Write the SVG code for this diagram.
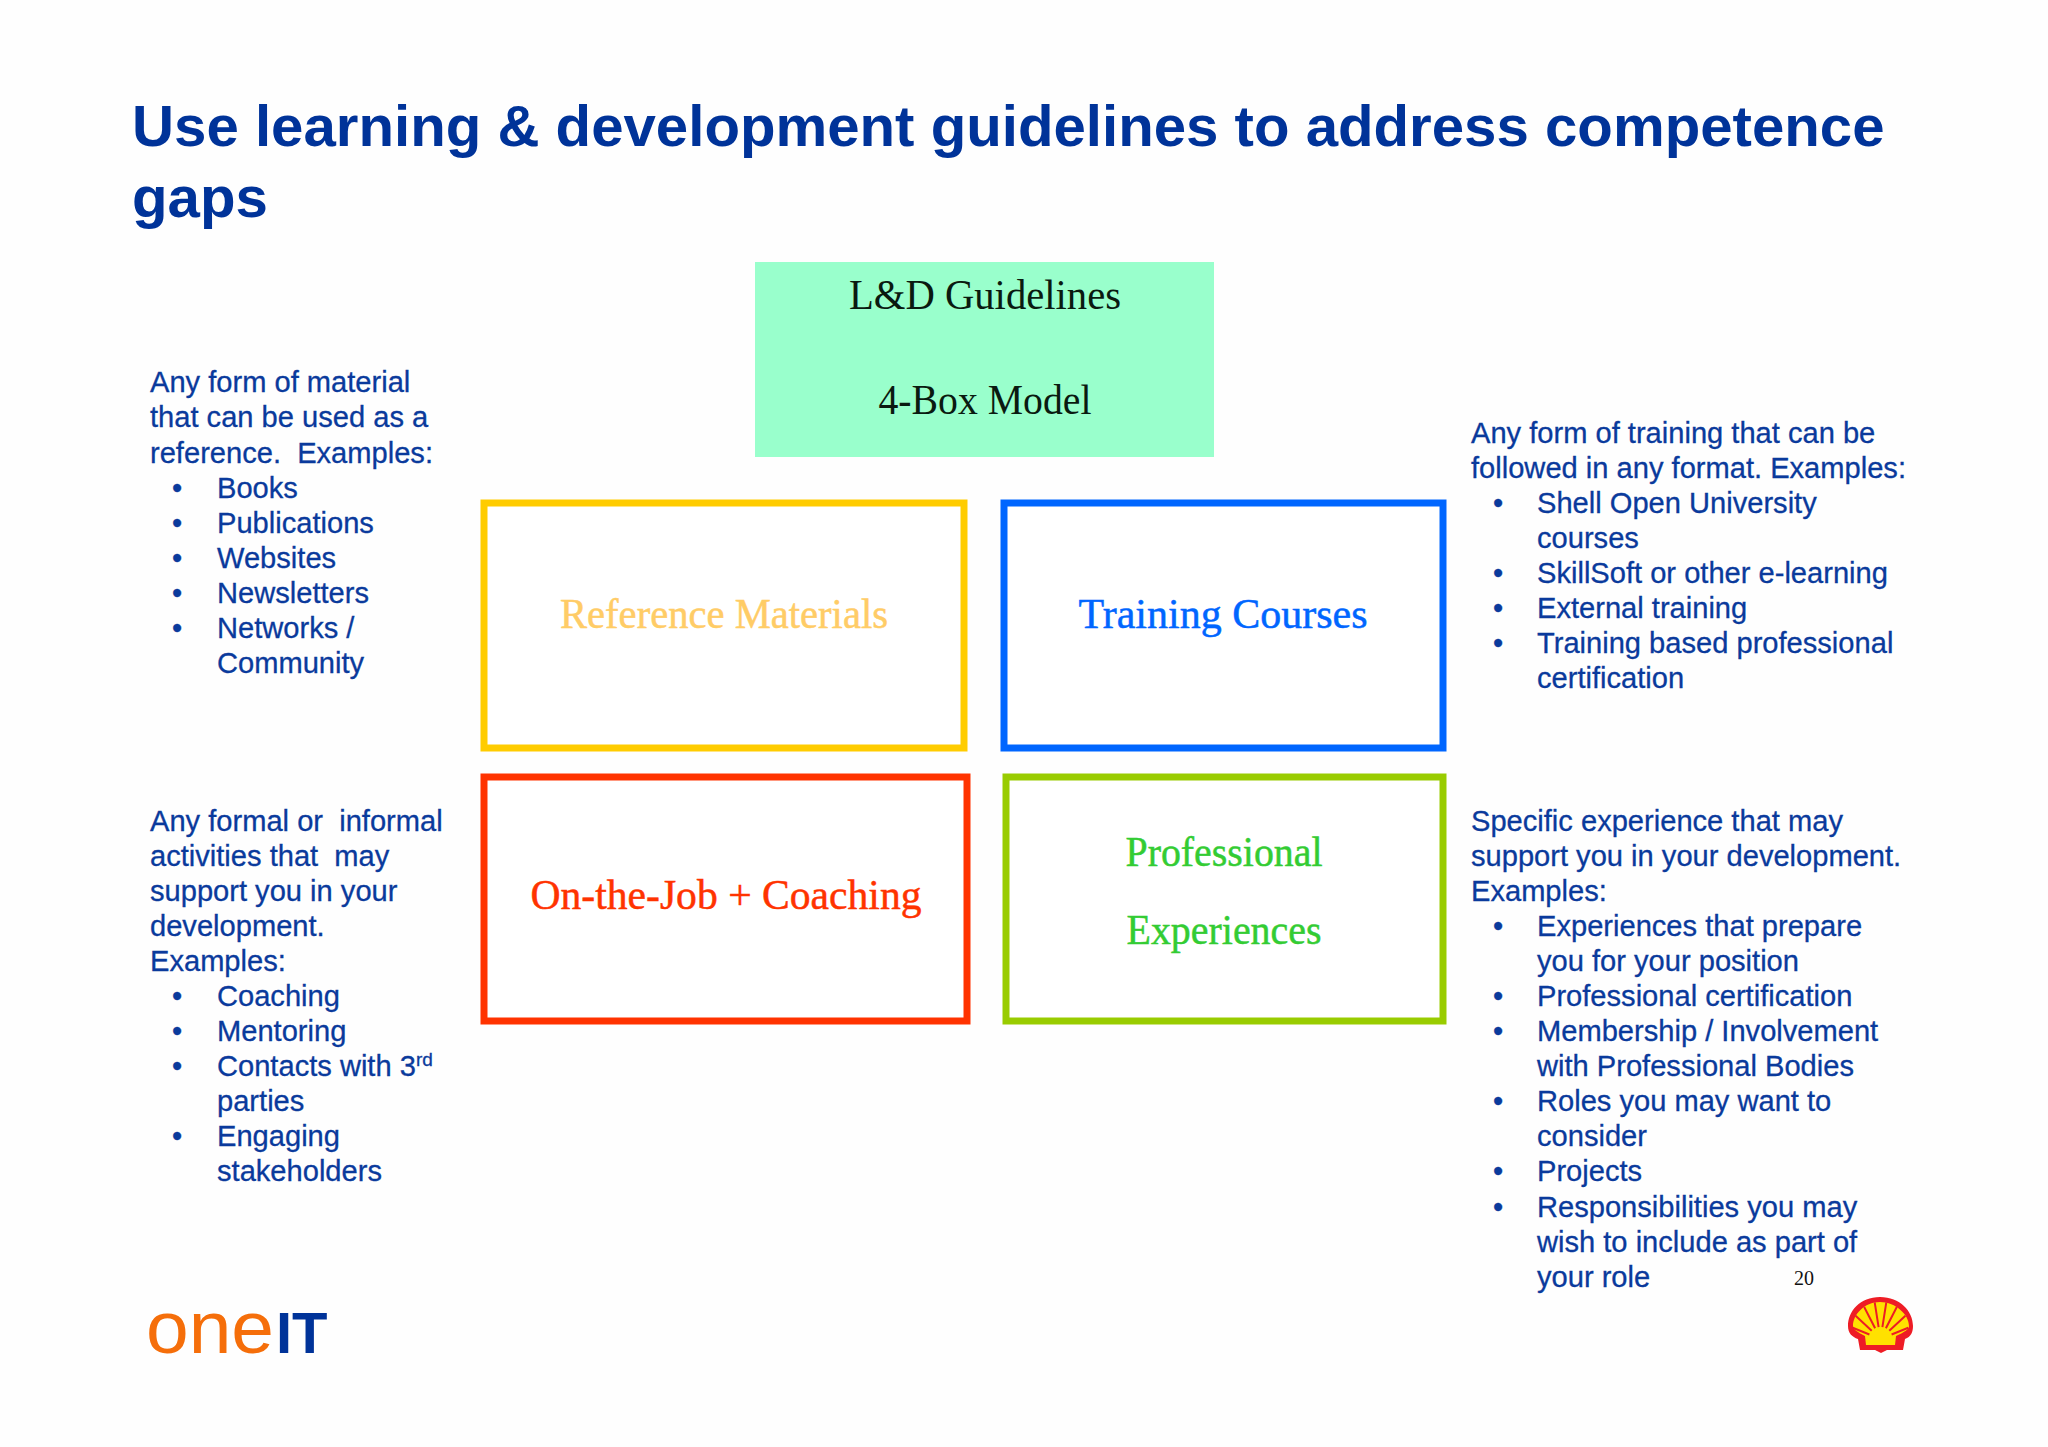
<svg xmlns="http://www.w3.org/2000/svg" width="2048" height="1447" viewBox="0 0 2048 1447">
<style>
.t{font-family:"Liberation Sans",Arial,sans-serif;font-size:29.1px;fill:#0a3a9c;stroke:#0a3a9c;stroke-width:.3px;white-space:pre}
.h{font-family:"Liberation Sans",Arial,sans-serif;font-size:58.2px;font-weight:bold;fill:#003399}
.s{font-family:"Liberation Serif","Times New Roman",serif;text-anchor:middle;font-size:43px;stroke-width:.5px}
.b{fill:#fff;stroke-width:7}
</style>
<rect width="2048" height="1447" fill="#fefefe"/>
<g id="title"><text class="h" x="132" y="146">Use learning &amp; development guidelines to address competence</text><text class="h" x="132" y="217">gaps</text></g>
<g id="header"><rect x="755" y="262" width="459" height="195" fill="#99ffcc"/><text class="s" x="985" y="309" fill="#0a1a10" textLength="272" lengthAdjust="spacingAndGlyphs">L&amp;D Guidelines</text><text class="s" x="985" y="414" fill="#0a1a10" textLength="213" lengthAdjust="spacingAndGlyphs">4-Box Model</text></g>
<g id="box-reference"><rect class="b" x="484" y="503" width="480" height="245" stroke="#ffcc00"/><text class="s" x="724" y="628" fill="#ffcc66" stroke="#ffcc66" textLength="328" lengthAdjust="spacingAndGlyphs">Reference Materials</text></g>
<g id="box-training"><rect class="b" x="1004" y="503" width="439" height="245" stroke="#0066ff"/><text class="s" x="1223" y="628" fill="#0066ff" stroke="#0066ff" textLength="289" lengthAdjust="spacingAndGlyphs">Training Courses</text></g>
<g id="box-job"><rect class="b" x="484" y="777" width="483" height="244" stroke="#ff3300"/><text class="s" x="726" y="909" fill="#ff3300" stroke="#ff3300" textLength="391" lengthAdjust="spacingAndGlyphs">On-the-Job + Coaching</text></g>
<g id="box-experience"><rect class="b" x="1006" y="777" width="437" height="244" stroke="#99cc00"/><text class="s" x="1224" y="866" fill="#33cc33" stroke="#33cc33" textLength="197" lengthAdjust="spacingAndGlyphs">Professional</text><text class="s" x="1224" y="944" fill="#33cc33" stroke="#33cc33" textLength="195" lengthAdjust="spacingAndGlyphs">Experiences</text></g>
<g id="notes-reference">
<text class="t" x="150" y="392">Any form of material</text><text class="t" x="150" y="427">that can be used as a</text><text class="t" x="150" y="463">reference.  Examples:</text>
<text class="t" x="172" y="498">•</text><text class="t" x="217" y="498">Books</text>
<text class="t" x="172" y="533">•</text><text class="t" x="217" y="533">Publications</text>
<text class="t" x="172" y="568">•</text><text class="t" x="217" y="568">Websites</text>
<text class="t" x="172" y="603">•</text><text class="t" x="217" y="603">Newsletters</text>
<text class="t" x="172" y="638">•</text><text class="t" x="217" y="638">Networks /</text>
<text class="t" x="217" y="673">Community</text>
</g>
<g id="notes-training">
<text class="t" x="1471" y="443">Any form of training that can be</text><text class="t" x="1471" y="478">followed in any format. Examples:</text>
<text class="t" x="1493" y="513">•</text><text class="t" x="1537" y="513">Shell Open University</text><text class="t" x="1537" y="548">courses</text>
<text class="t" x="1493" y="583">•</text><text class="t" x="1537" y="583">SkillSoft or other e-learning</text>
<text class="t" x="1493" y="618">•</text><text class="t" x="1537" y="618">External training</text>
<text class="t" x="1493" y="653">•</text><text class="t" x="1537" y="653">Training based professional</text><text class="t" x="1537" y="688">certification</text>
</g>
<g id="notes-job">
<text class="t" x="150" y="831">Any formal or  informal</text><text class="t" x="150" y="866">activities that  may</text><text class="t" x="150" y="901">support you in your</text><text class="t" x="150" y="936">development.</text><text class="t" x="150" y="971">Examples:</text>
<text class="t" x="172" y="1006">•</text><text class="t" x="217" y="1006">Coaching</text>
<text class="t" x="172" y="1041">•</text><text class="t" x="217" y="1041">Mentoring</text>
<text class="t" x="172" y="1076">•</text><text class="t" x="217" y="1076">Contacts with 3<tspan font-size="19" dy="-10">rd</tspan></text><text class="t" x="217" y="1111">parties</text>
<text class="t" x="172" y="1146">•</text><text class="t" x="217" y="1146">Engaging</text><text class="t" x="217" y="1181">stakeholders</text>
</g>
<g id="notes-experience">
<text class="t" x="1471" y="831">Specific experience that may</text><text class="t" x="1471" y="866">support you in your development.</text><text class="t" x="1471" y="901">Examples:</text>
<text class="t" x="1493" y="936">•</text><text class="t" x="1537" y="936">Experiences that prepare</text><text class="t" x="1537" y="971">you for your position</text>
<text class="t" x="1493" y="1006">•</text><text class="t" x="1537" y="1006">Professional certification</text>
<text class="t" x="1493" y="1041">•</text><text class="t" x="1537" y="1041">Membership / Involvement</text><text class="t" x="1537" y="1076">with Professional Bodies</text>
<text class="t" x="1493" y="1111">•</text><text class="t" x="1537" y="1111">Roles you may want to</text><text class="t" x="1537" y="1146">consider</text>
<text class="t" x="1493" y="1181">•</text><text class="t" x="1537" y="1181">Projects</text>
<text class="t" x="1493" y="1217">•</text><text class="t" x="1537" y="1217">Responsibilities you may</text><text class="t" x="1537" y="1252">wish to include as part of</text><text class="t" x="1537" y="1287">your role</text>
</g>
<text id="page" x="1794" y="1285" font-family="Liberation Serif,serif" font-size="20" fill="#111">20</text>
<g id="logo-oneit"><text x="146" y="1353" font-family="Liberation Sans,sans-serif" font-size="74" fill="#f56e0a" textLength="128" lengthAdjust="spacingAndGlyphs">one</text><text x="276" y="1353" font-family="Liberation Sans,sans-serif" font-weight="bold" font-size="58" fill="#003399">IT</text></g>
<g id="logo-shell" transform="translate(0,1)">
<path d="M1880 1296C1860 1296 1848 1310 1848 1325C1848 1332 1852 1336 1858 1338L1860 1349L1875 1349L1881 1352L1887 1349L1903 1349L1905 1338C1911 1336 1913 1331 1913 1325C1913 1310 1900 1296 1880 1296Z" fill="#ee1c25"/>
<path d="M1880 1301C1864 1301 1853 1314 1853 1325C1853 1328 1857 1331 1865 1335L1866 1344L1895 1344L1896 1335C1905 1331 1909 1328 1909 1325C1909 1314 1896 1301 1880 1301Z" fill="#ffe100"/>
<g stroke="#ee1c25" stroke-width="2" fill="none"><path d="M1874.700 1301.400L1878.600 1326.100M1886.300 1301.400L1882.400 1326.100M1864.200 1306L1875.100 1327.300M1896.800 1306L1885.900 1327.300M1855.600 1314.800L1871.700 1329.800M1905.400 1314.800L1889.300 1329.800M1852.700 1326.800L1869.400 1333.500M1908.300 1326.800L1891.600 1333.500"/></g>
</g>
</svg>
